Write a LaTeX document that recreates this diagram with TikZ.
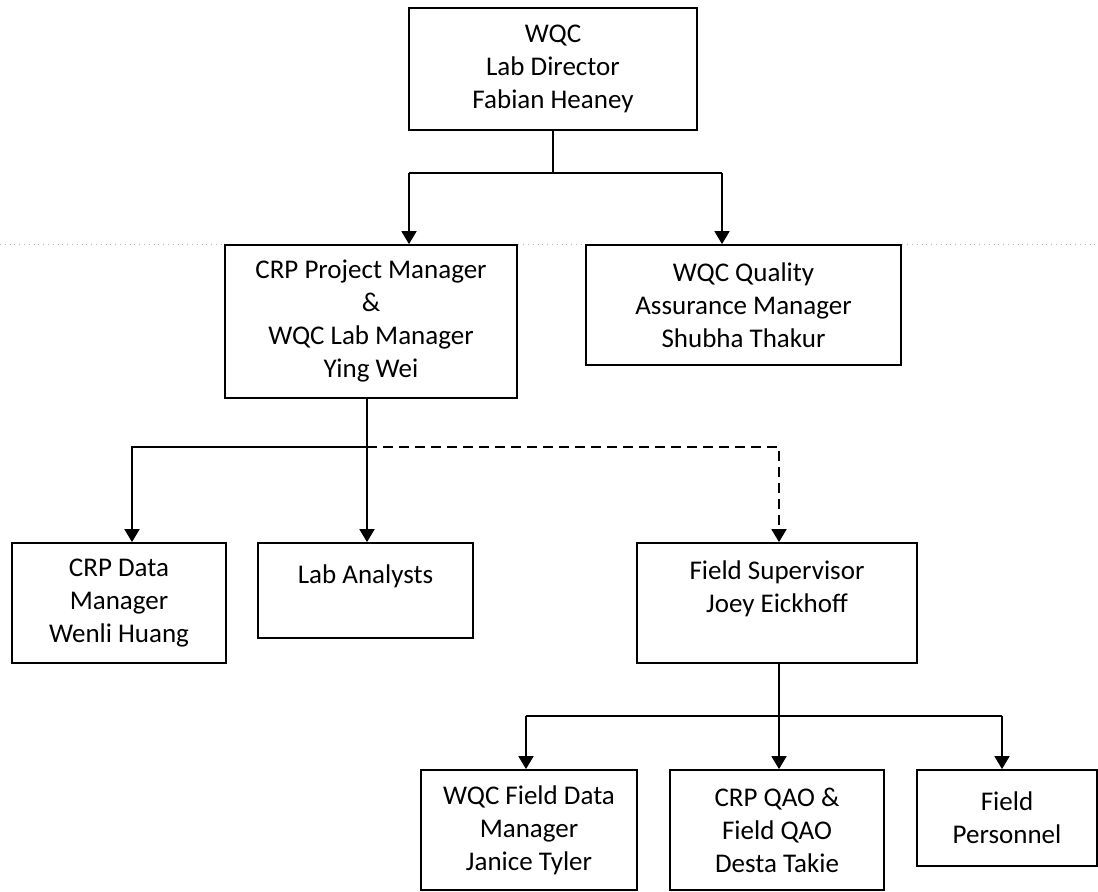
\documentclass[tikz,border=0pt]{standalone}
\usepackage{fontspec}
\setmainfont{Carlito}
\usetikzlibrary{arrows.meta}

\tikzset{
  box/.style={draw, line width=0.9pt, fill=white, align=center, inner sep=2pt,
    font=\fontsize{13.5}{16.5}\selectfont},
  link/.style={line width=0.9pt},
  arr/.style={line width=0.9pt, -{Triangle[length=6.5pt,width=7.5pt]}}
}

\begin{document}
\begin{tikzpicture}[x=0.5pt, y=-0.5pt]
  \useasboundingbox (0,0) rectangle (1098,891);
  \draw[gray!60, dotted, line width=0.4pt] (0,244) -- (1098,244);

  \node[box, minimum width=144pt, minimum height=61pt] (dir) at (553,69)
    {WQC\\Lab Director\\Fabian Heaney};
  \node[box, minimum width=146pt, minimum height=76.5pt] (pm) at (371,321.5)
    {CRP Project Manager\\\&\\WQC Lab Manager\\Ying Wei};
  \node[box, minimum width=157.5pt, minimum height=60pt] (qa) at (743.5,305)
    {WQC Quality\\Assurance Manager\\Shubha Thakur};
  \node[box, minimum width=107pt, minimum height=60pt] (dm) at (119,603)
    {CRP Data\\Manager\\Wenli Huang};
  \node[box, minimum width=107.5pt, minimum height=47.5pt] (la) at (365.5,590.5)
    {Lab Analysts\\\mbox{}};
  \node[box, minimum width=140pt, minimum height=60pt] (fs) at (777,603)
    {Field Supervisor\\Joey Eickhoff\\\mbox{}};
  \node[box, minimum width=108pt, minimum height=60pt] (fdm) at (529,830)
    {WQC Field Data\\Manager\\Janice Tyler};
  \node[box, minimum width=107pt, minimum height=60pt] (qao) at (777,830)
    {CRP QAO \&\\Field QAO\\Desta Takie};
  \node[box, minimum width=90pt, minimum height=48pt] (fp) at (1007,818)
    {Field\\Personnel};

  \coordinate (a0) at (553,173);
  \coordinate (a1) at (409,173);
  \coordinate (a2) at (722,173);
  \draw[link] (dir) -- (a0);
  \draw[link] (a1) -- (a2);
  \draw[arr] (a1) -- (a1 |- pm.north);
  \draw[arr] (a2) -- (a2 |- qa.north);

  \coordinate (b0) at (367,447);
  \coordinate (b1) at (132,447);
  \coordinate (b2) at (779,447);
  \draw[link] (b0 |- pm.south) -- (b0);
  \draw[arr] (b0) -- (b0 |- la.north);
  \draw[arr] (b0) -- (b1) -- (b1 |- dm.north);
  \draw[arr, dash pattern=on 5pt off 3pt] (b0) -- (b2) -- (b2 |- fs.north);

  \coordinate (c0) at (779,716);
  \coordinate (c1) at (526,716);
  \coordinate (c2) at (1002,716);
  \draw[arr] (c0 |- fs.south) -- (c0 |- qao.north);
  \draw[link] (c1) -- (c2);
  \draw[arr] (c1) -- (c1 |- fdm.north);
  \draw[arr] (c2) -- (c2 |- fp.north);
\end{tikzpicture}
\end{document}
